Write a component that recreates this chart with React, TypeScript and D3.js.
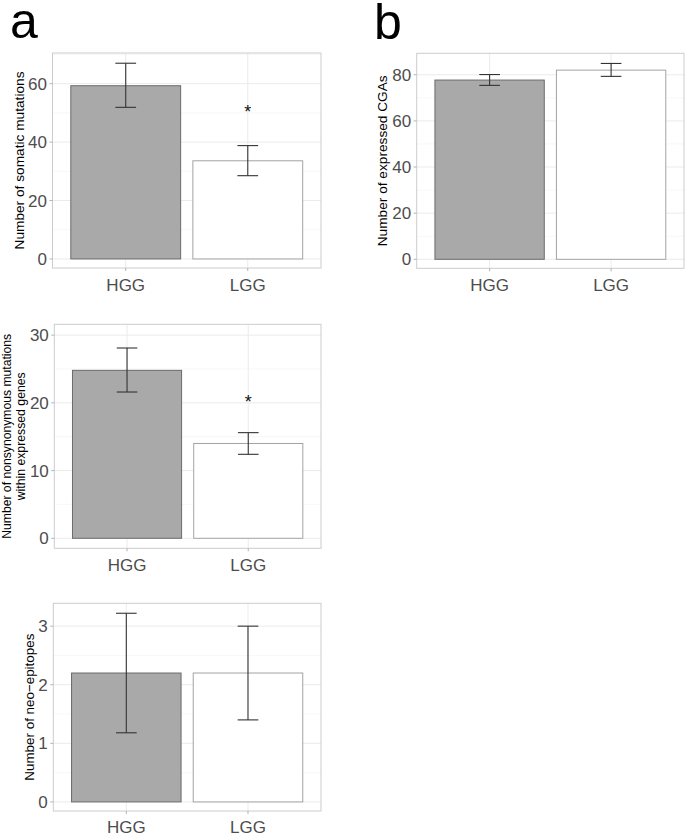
import React from 'react';
import * as d3 from 'd3';

const groups = ['HGG', 'LGG'];

// panel a, top: somatic mutations
const somaticMean = [59.3, 33.6];
const somaticLo = [51.9, 28.5];
const somaticHi = [67.0, 38.8];
const somaticTicks = [0, 20, 40, 60];

// panel a, middle: nonsynonymous mutations within expressed genes
const nonsynMean = [24.8, 14.0];
const nonsynLo = [21.6, 12.4];
const nonsynHi = [28.1, 15.6];
const nonsynTicks = [0, 10, 20, 30];

// panel a, bottom: neo-epitopes
const neoMean = [2.2, 2.2];
const neoLo = [1.18, 1.4];
const neoHi = [3.22, 3.0];
const neoTicks = [0, 1, 2, 3];

// panel b: expressed CGAs
const cgaMean = [77.7, 82.0];
const cgaLo = [75.4, 79.3];
const cgaHi = [80.1, 84.9];
const cgaTicks = [0, 20, 40, 60, 80];

const fills = ['#a9a9a9', '#ffffff'];
const strokes = ['#6b6b6b', '#a3a3a3'];
const font = 'Liberation Sans, Arial, sans-serif';

type PanelProps = {
  box: { l: number; r: number; t: number; b: number };
  domain: [number, number];
  ticks: number[];
  mean: number[];
  lo: number[];
  hi: number[];
  title: string[];
  titleX: number[];
  titleLen: number[];
  titleSize: number;
  star?: number;
};

function Panel(p: PanelProps) {
  const { l, r, t, b } = p.box;
  const x = d3.scalePoint<string>().domain(groups).range([l, r]).padding(0.6);
  const step = x.step();
  const y = d3.scaleLinear().domain(p.domain).range([b, t]);
  const half = p.ticks[1] - p.ticks[0];
  const minor = d3.range(p.ticks[0] - half / 2, p.domain[1], half).filter(v => v > p.domain[0] && !p.ticks.includes(v));
  const cy = (t + b) / 2;
  const labelY = Math.min(b + 22.6, 832.6);

  return (
    <g>
      {minor.map(v => (
        <line key={'mn' + v} x1={l} x2={r} y1={y(v)} y2={y(v)} stroke="#f2f2f2" strokeWidth={0.6} />
      ))}
      {p.ticks.map(v => (
        <line key={'mj' + v} x1={l} x2={r} y1={y(v)} y2={y(v)} stroke="#ebebeb" strokeWidth={1} />
      ))}
      {groups.map(g => (
        <line key={'vg' + g} x1={x(g)} x2={x(g)} y1={t} y2={b} stroke="#ebebeb" strokeWidth={1} />
      ))}
      {groups.map((g, i) => (
        <rect key={'bar' + g}
          x={x(g)! - step * 0.45} width={step * 0.9}
          y={y(p.mean[i])} height={y(0) - y(p.mean[i])}
          fill={fills[i]} stroke={strokes[i]} strokeWidth={1} />
      ))}
      {groups.map((g, i) => {
        const cx = x(g)!;
        const w = step * 0.085;
        return (
          <g key={'err' + g} stroke="#333333" strokeWidth={1.1}>
            <line x1={cx} x2={cx} y1={y(p.lo[i])} y2={y(p.hi[i])} />
            <line x1={cx - w} x2={cx + w} y1={y(p.lo[i])} y2={y(p.lo[i])} />
            <line x1={cx - w} x2={cx + w} y1={y(p.hi[i])} y2={y(p.hi[i])} />
          </g>
        );
      })}
      {p.star !== undefined && (
        <text x={x('LGG')} y={y(p.star) + 10} textAnchor="middle" fontSize={18} fontFamily={font} fill="#111">*</text>
      )}
      <rect x={l} y={t} width={r - l} height={b - t} fill="none" stroke="#cccccc" strokeWidth={1} />
      {p.ticks.map(v => (
        <g key={'yt' + v}>
          <line x1={l - 3} x2={l} y1={y(v)} y2={y(v)} stroke="#b3b3b3" />
          <text x={l - 5.5} y={y(v)} dy="0.36em" textAnchor="end" fontSize={17} fontFamily={font} fill="#4d4d4d">{v}</text>
        </g>
      ))}
      {groups.map(g => (
        <g key={'xt' + g}>
          <line x1={x(g)} x2={x(g)} y1={b} y2={b + 3} stroke="#b3b3b3" />
          <text x={x(g)} y={labelY} textAnchor="middle" fontSize={17} fontFamily={font} fill="#4d4d4d">{g}</text>
        </g>
      ))}
      {p.title.map((s, i) => (
        <text key={'ti' + i} transform={`translate(${p.titleX[i]},${cy}) rotate(-90)`}
          textAnchor="middle" dominantBaseline="central" fontSize={p.titleSize} fontFamily={font} fill="#000"
          textLength={p.titleLen[i]} lengthAdjust="spacingAndGlyphs">{s}</text>
      ))}
    </g>
  );
}

export default function App() {
  return (
    <svg width={685} height={833} style={{ position: 'absolute', left: 0, top: 0, background: '#fff' }}>
      <text x={10} y={38} fontSize={50} fontFamily={font}>a</text>
      <text x={374} y={38.5} fontSize={50} fontFamily={font}>b</text>
      <Panel box={{ l: 52.5, r: 321, t: 53, b: 268 }} domain={[-3.1, 70.5]} ticks={somaticTicks}
        mean={somaticMean} lo={somaticLo} hi={somaticHi}
        title={['Number of somatic mutations']} titleX={[19]} titleLen={[178]} titleSize={13.7} star={51.7} />
      <Panel box={{ l: 416.7, r: 684, t: 53.3, b: 268.3 }} domain={[-3.9, 89.3]} ticks={cgaTicks}
        mean={cgaMean} lo={cgaLo} hi={cgaHi}
        title={['Number of expressed CGAs']} titleX={[382]} titleLen={[171]} titleSize={13.4} />
      <Panel box={{ l: 54.3, r: 321, t: 324.3, b: 548.3 }} domain={[-1.48, 31.6]} ticks={nonsynTicks}
        mean={nonsynMean} lo={nonsynLo} hi={nonsynHi}
        title={['Number of nonsynonymous mutations', 'within expressed genes']} titleX={[6.5, 20.5]}
        titleLen={[205, 128]} titleSize={12.2} star={20.7} />
      <Panel box={{ l: 53.3, r: 321, t: 603.3, b: 811 }} domain={[-0.155, 3.39]} ticks={neoTicks}
        mean={neoMean} lo={neoLo} hi={neoHi}
        title={['Number of neo\u2212epitopes']} titleX={[29]} titleLen={[147]} titleSize={13.4} />
    </svg>
  );
}
